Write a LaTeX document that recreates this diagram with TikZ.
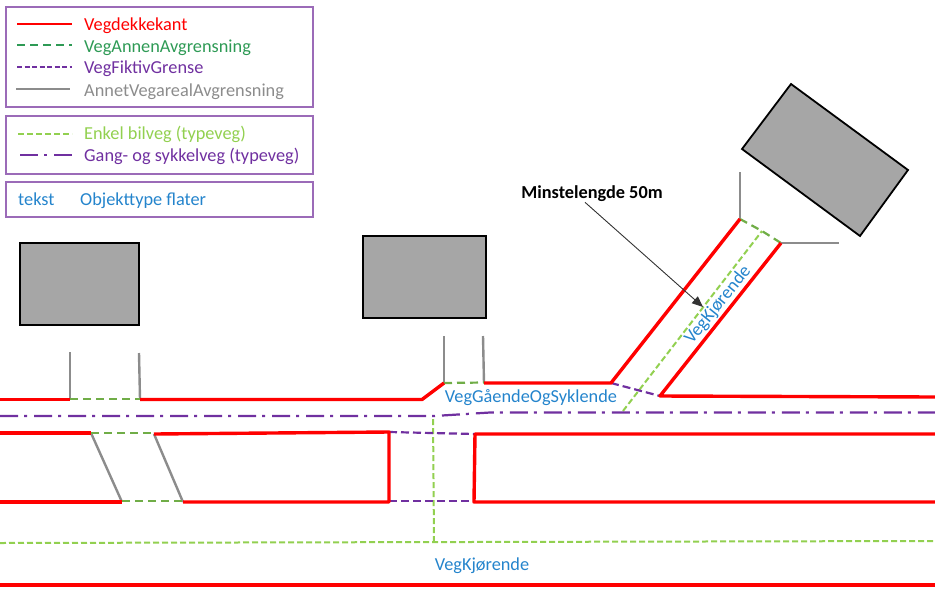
\documentclass[tikz,border=0pt]{standalone}
\usepackage{fontspec}
\setmainfont{Carlito}
\usetikzlibrary{arrows.meta}
\definecolor{legendframe}{HTML}{9B6BB8}
\definecolor{kantred}{HTML}{FF0000}
\definecolor{annengreen}{HTML}{2E9A55}
\definecolor{dashgreen}{HTML}{70AD47}
\definecolor{bilgreen}{HTML}{92D050}
\definecolor{fiktivpurple}{HTML}{7030A0}
\definecolor{annetgray}{HTML}{8C8C8C}
\definecolor{labelblue}{HTML}{2484CC}
\tikzset{
  kant/.style={draw=kantred, line width=3.4pt, line join=round},
  annen/.style={draw=dashgreen, line width=2.2pt, dash pattern=on 8pt off 5pt},
  fiktiv/.style={draw=fiktivpurple, line width=2.2pt, dash pattern=on 8pt off 4pt},
  annet/.style={draw=annetgray, line width=2.4pt},
  bilveg/.style={draw=bilgreen, line width=2pt, dash pattern=on 6pt off 3pt},
  gangveg/.style={draw=fiktivpurple, line width=2.2pt, dash pattern=on 18pt off 6pt on 3pt off 7pt},
  bygg/.style={draw=black, line width=1.8pt, fill=black!35},
  legendbox/.style={draw=legendframe, line width=1.4pt},
  legendtext/.style={anchor=base west, font=\fontsize{18.3}{21}\selectfont, inner sep=0pt},
  flate/.style={text=labelblue, font=\fontsize{18.3}{21}\selectfont, inner sep=0pt}
}
\begin{document}
\begin{tikzpicture}[x=1pt, y=-1pt]
\useasboundingbox (0,0) rectangle (935,598);

% legend
\draw[legendbox] (6,7) rectangle (313,107);
\draw[legendbox] (6,116) rectangle (313,174);
\draw[legendbox] (6,182) rectangle (313,217);
\draw[kant, line width=2.4pt] (17,24) -- (72,24);
\draw[annen, draw=annengreen] (17,45) -- (72,45);
\draw[fiktiv, dash pattern=on 5pt off 2.5pt] (17,67) -- (72,67);
\draw[annet] (16,89) -- (70,89);
\draw[bilveg] (18,134) -- (72,134);
\draw[gangveg] (20,155) -- (72,155);
\node[legendtext, text=kantred] (txtkant) at (84,30) {Vegdekkekant};
\node[legendtext, text=annengreen] (txtannen) at (84,52) {VegAnnenAvgrensning};
\node[legendtext, text=fiktivpurple] (txtfiktiv) at (84,73) {VegFiktivGrense};
\node[legendtext, text=annetgray] (txtannet) at (84,96) {AnnetVegarealAvgrensning};
\node[legendtext, text=bilgreen] (txtbil) at (84,139) {Enkel bilveg (typeveg)};
\node[legendtext, text=fiktivpurple] (txtgang) at (84,161) {Gang- og sykkelveg (typeveg)};
\node[legendtext, text=labelblue] (txttekst) at (18,205) {tekst};
\node[legendtext, text=labelblue] (txtflater) at (80,205) {Objekttype flater};

% buildings
\draw[bygg] (20,243) rectangle (139,325);
\draw[bygg] (363,236) rectangle (486,318);
\draw[bygg] (791,84) -- (908,170) -- (860,236) -- (742,149) -- cycle;

% gray limits
\draw[annet] (70,352) -- (70,399);
\draw[annet] (139,353) -- (140,399);
\draw[annet] (444,336) -- (444,383);
\draw[annet] (483,336) -- (484,383);
\draw[annet] (740,172) -- (740,219);
\draw[annet] (781,243) -- (839,243);
\draw[annet] (91,433) -- (122,502);
\draw[annet] (154,434) -- (183,502);

% typeveg lines
\draw[bilveg] (0,543) -- (935,541);
\draw[bilveg] (434,542) -- (433,416);
\draw[bilveg] (623,411) -- (762,231);
\draw[gangveg] (0,416) -- (434,416) -- (490,412.5) -- (935,412.5);

% other limits
\draw[annen] (70,399) -- (140,399);
\draw[annen] (91,433) -- (154,433);
\draw[annen] (122,501) -- (183,501);
\draw[annen] (444,383) -- (484,382.5);
\draw[annen] (740,219) -- (762,231) -- (781,243);
\draw[fiktiv] (389,432) -- (475,434);
\draw[fiktiv] (389,501) -- (474,501);
\draw[fiktiv] (611,383) -- (660,396);

% road edges
\draw[kant] (0,399.5) -- (70,399.5);
\draw[kant] (140,399.5) -- (422,399.5) -- (444,383);
\draw[kant] (484,383) -- (611,383) -- (740,219);
\draw[kant] (781,243) -- (660,396) -- (935,397);
\draw[kant] (0,433) -- (91,433);
\draw[kant] (154,434) -- (389,432) -- (389,502) -- (183,502);
\draw[kant] (0,502) -- (122,502);
\draw[kant] (935,434) -- (475,434) -- (474,502) -- (935,502);
\draw[kant] (0,585) -- (935,585);

% labels
\node[flate, anchor=base] (gsveg) at (531,402) {VegGåendeOgSyklende};
\node[flate, anchor=base] (kjveg) at (482,570) {VegKjørende};
\node[flate, rotate=51] (kjarm) at (718,305) {VegKjørende};
\node[font=\fontsize{18.3}{21}\selectfont\bfseries, inner sep=0pt, anchor=base] (minlengde) at (592,198) {Minstelengde 50m};
\coordinate (minpil) at (703,307);
\draw[-{Triangle[length=11pt, width=9pt]}, line width=0.9pt, black!80] (minlengde.south) ++(-7,1) -- (minpil);
\end{tikzpicture}
\end{document}
